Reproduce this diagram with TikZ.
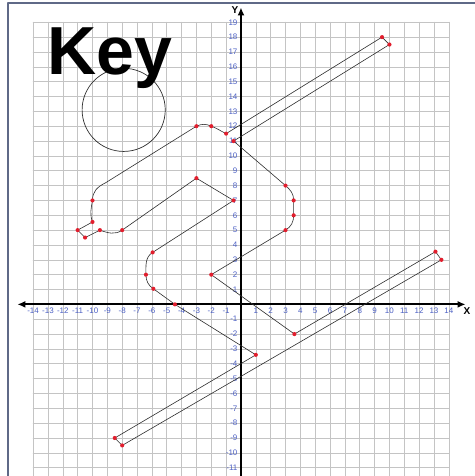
\documentclass[tikz,border=0pt]{standalone}
\usepackage{fontspec}
\setmainfont{Liberation Sans}
\usetikzlibrary{arrows.meta}
\definecolor{tickblue}{RGB}{75,95,195}
\definecolor{gridgray}{RGB}{196,196,196}
\definecolor{framegray}{RGB}{95,105,135}
\definecolor{dotred}{RGB}{225,30,45}
\definecolor{keyline}{RGB}{45,45,45}
\begin{document}
\begin{tikzpicture}[x=14.85pt,y=14.85pt,line width=.6pt,
 >={Latex[length=8pt,width=7pt]},line cap=round,line join=round,
 font=\fontsize{8}{9}\selectfont,
 axis/.style={line width=2pt,black},
 tick/.style={text=tickblue,inner sep=0pt},
 axislabel/.style={inner sep=0pt,font=\fontsize{10}{12}\selectfont\bfseries},
 dot/.style={fill=dotred,draw=none}]
 \useasboundingbox (-16.23,-11.56) rectangle (15.76,20.5);
 \draw[framegray,line width=1.2pt] (-15.69,-11.8)--(-15.69,20.3)--(15.9,20.3);
 \foreach \x in {-14,...,14}
  \draw[gridgray] (\x,-11.8)--(\x,19);
 \foreach \y in {-11,...,19}
  \draw[gridgray] (-14,\y)--(14,\y);
 \foreach \x in {-14,...,14}{
  \ifnum\x=0\else
   \node[tick] (xt\x) at (\x,-.42) {\x};
  \fi
 }
 \foreach \y in {-11,...,19}{
  \ifnum\y=0\else
   \node[tick,anchor=east] (yt\y) at (-.22,\y) {\y};
  \fi
 }
 \coordinate (xl) at (-15.06,0);
 \coordinate (xr) at (15.13,0);
 \coordinate (yb) at (0,-11.8);
 \coordinate (yt) at (0,20);
 \draw[axis,<->] (xl)--(xr);
 \draw[axis,->] (yb)--(yt);
 \node[axislabel] (ylab) at (-.4,19.8) {Y};
 \node[axislabel] (xlab) at (15.22,-.44) {X};
 \coordinate (ring) at (-7.9,13.1);
 \draw[keyline,line width=.7pt] (ring) circle[radius=2.8];
 \node[anchor=base west,inner sep=0pt,
  font=\fontsize{68}{70}\selectfont\bfseries] (key) at (-13.05,15.45) {Key};
 \coordinate (k1) at (-3,12);
 \coordinate (k2) at (-2,12);
 \coordinate (k3) at (-1,11.5);
 \coordinate (k4) at (9.5,18);
 \coordinate (k5) at (10,17.5);
 \coordinate (k6) at (-.5,11);
 \coordinate (k7) at (3,8);
 \coordinate (k8) at (3.55,7);
 \coordinate (k9) at (3.55,6);
 \coordinate (k10) at (3,5);
 \coordinate (k11) at (-2,2);
 \coordinate (k12) at (3.6,-2);
 \coordinate (k13) at (13.1,3.55);
 \coordinate (k14) at (13.5,3);
 \coordinate (k15) at (-8,-9.5);
 \coordinate (k16) at (-8.5,-9);
 \coordinate (k17) at (1,-3.4);
 \coordinate (k18) at (-4.45,0);
 \coordinate (k19) at (-5.9,1.05);
 \coordinate (k20) at (-6.4,2);
 \coordinate (k21) at (-5.95,3.5);
 \coordinate (k22) at (-.5,7);
 \coordinate (k23) at (-3,8.5);
 \coordinate (k24) at (-8,5);
 \coordinate (k25) at (-9.5,5);
 \coordinate (k26) at (-10.5,4.5);
 \coordinate (k27) at (-11,5);
 \coordinate (k28) at (-10,5.55);
 \coordinate (k29) at (-10,7);
 \draw[keyline] (k1) to[out=25,in=155] (k2) to[out=-20,in=155] (k3)
  --(k4)--(k5)--(k6)--(k7) to[out=-40,in=90] (k8)--(k9)
  to[out=-90,in=31] (k10)--(k11)--(k12)--(k13)--(k14)--(k15)--(k16)
  --(k17)--(k18)--(k19) to[out=146,in=-90] (k20) to[out=90,in=212] (k21)
  --(k22)--(k23)--(k24) to[out=215,in=-20] (k25)--(k26)--(k27)--(k28)
  to[out=110,in=-100] (k29)
  .. controls (-10,7.6) and (-9.7,7.9) .. (-9.1,8.2)--cycle;
 \foreach \i in {1,...,29}
  \fill[dot] (k\i) circle[radius=.14];
\end{tikzpicture}
\end{document}
